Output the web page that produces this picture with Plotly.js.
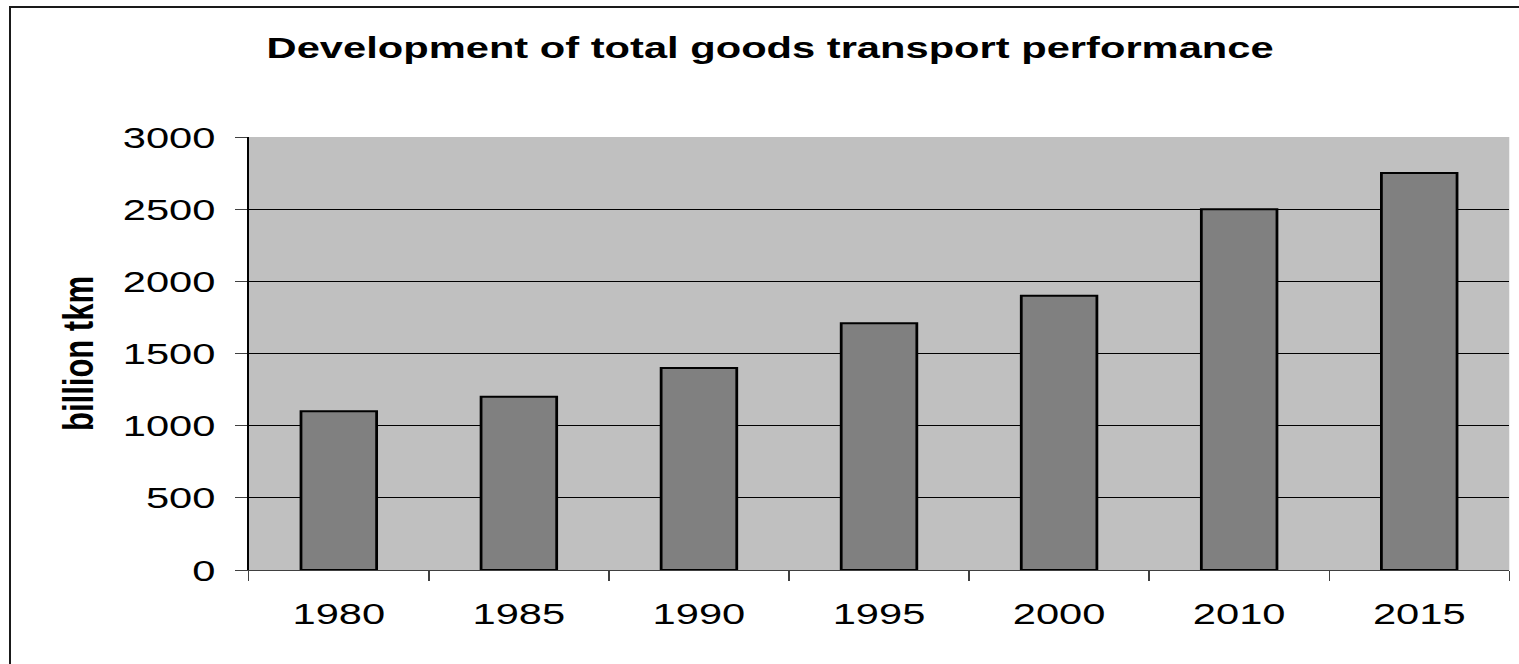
<!DOCTYPE html>
<html>
<head>
<meta charset="utf-8">
<script src="https://cdn.plot.ly/plotly-3.0.1.min.js"></script>
<style>
  html, body { margin: 0; padding: 0; overflow: hidden; background: #fff; width: 1519px; height: 664px; }
  #frame { position: absolute; left: 9px; top: 6px; width: 1600px; height: 800px;
           border-left: 2px solid #1a1a1a; border-top: 2px solid #1a1a1a; pointer-events: none; z-index: 5; }
  #edge { position: absolute; left: 1512px; top: 9px; width: 20px; height: 700px; background: #fff; z-index: 6; }
  #wrap { position: absolute; left: 0; top: 0; width: 1093px; height: 664px; transform: scaleX(1.38975); transform-origin: 0 0; }
  #chart { width: 1093px; height: 664px; }
</style>
</head>
<body>
<div id="wrap"><div id="chart"></div></div>
<div id="frame"></div>
<div id="edge"></div>
<script>
const years = ['1980', '1985', '1990', '1995', '2000', '2010', '2015'];
const transportPerformance = [1100, 1200, 1400, 1710, 1900, 2500, 2750];
const yTickValues = [0, 500, 1000, 1500, 2000, 2500, 3000];
const chartTitle = 'Development of total goods transport performance';
const yAxisTitle = 'billion tkm';

const FONT = 'Liberation Sans, Arial, sans-serif';

const trace = {
  type: 'bar',
  x: years,
  y: transportPerformance,
  marker: { color: '#808080', line: { color: '#000000', width: 2 } },
  hoverinfo: 'x+y'
};

const layout = {
  width: 1093,
  height: 664,
  margin: { l: 179, r: 7, t: 137, b: 94 },
  paper_bgcolor: 'rgba(255,255,255,0)',
  plot_bgcolor: '#c0c0c0',
  showlegend: false,
  bargap: 0.58,
  font: { family: FONT, color: '#000000', size: 30 },
  title: {
    text: '<b>' + chartTitle + '</b>',
    font: { family: FONT, size: 30, color: '#000000' },
    xref: 'container', yref: 'container',
    x: 0.507, xanchor: 'center',
    y: 1 - 48 / 664, yanchor: 'middle'
  },
  xaxis: {
    type: 'category',
    tickson: 'boundaries',
    ticks: 'outside',
    ticklen: 10,
    tickwidth: 1,
    tickcolor: '#404040',
    showline: true,
    linecolor: '#404040',
    linewidth: 1,
    showgrid: false,
    zeroline: false,
    tickfont: { family: FONT, size: 30, color: '#000000' },
    ticklabelstandoff: 17,
    fixedrange: true
  },
  yaxis: {
    range: [0, 3000],
    tickvals: yTickValues,
    ticktext: yTickValues.map(String),
    ticks: 'outside',
    ticklen: 9,
    tickwidth: 1,
    tickcolor: '#404040',
    showline: true,
    linecolor: '#000000',
    linewidth: 1,
    showgrid: true,
    gridcolor: '#000000',
    gridwidth: 1,
    zeroline: false,
    tickfont: { family: FONT, size: 30, color: '#000000' },
    ticklabelstandoff: 8,
    title: {
      text: '<b>' + yAxisTitle + '</b>',
      font: { family: FONT, size: 31, color: '#000000' },
      standoff: 11
    },
    fixedrange: true
  }
};

Plotly.newPlot('chart', [trace], layout, { displayModeBar: false, staticPlot: true });
</script>
</body>
</html>
